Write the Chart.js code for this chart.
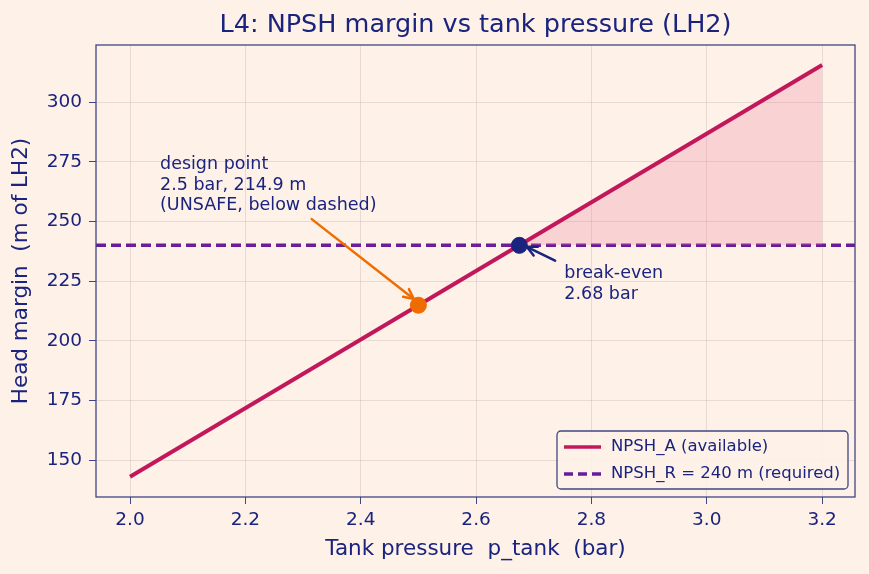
<!DOCTYPE html>
<html>
<head>
<meta charset="utf-8">
<script src="https://cdn.jsdelivr.net/npm/chart.js@4.4.1/dist/chart.umd.min.js"></script>
<style>
  html, body { margin: 0; padding: 0; background: #fef1e7; }
  #wrap { width: 869px; height: 574px; }
</style>
</head>
<body>
<div id="wrap"><canvas id="npshChart" width="869" height="574"></canvas></div>
<script>
// --- data ---
var pressure = [2.0, 2.5, 3.2];           // bar
var npshA = [143.0, 214.9, 315.6];        // m of LH2
var npshR = 240;                          // required, m
var xRange = [1.941, 3.257];
var yRange = [134.5, 324];
var xTicks = [2.0, 2.2, 2.4, 2.6, 2.8, 3.0, 3.2];
var yTicks = [150, 175, 200, 225, 250, 275, 300];
var designPt = [2.5, 214.9];
var breakEven = [2.675, 240];

var navy = '#1a237e';
var crimson = '#c2185b';
var purple = '#6a1b9a';
var orange = '#ef6c00';
var FONT = "'DejaVu Sans', sans-serif";

function arrow(ctx, x0, y0, x1, y1, color) {
  var a = Math.atan2(y1 - y0, x1 - x0), h = 11;
  ctx.save();
  ctx.strokeStyle = color; ctx.lineWidth = 2.5; ctx.lineCap = 'round';
  ctx.beginPath(); ctx.moveTo(x0, y0); ctx.lineTo(x1, y1); ctx.stroke();
  ctx.beginPath();
  ctx.moveTo(x1 - h * Math.cos(a - 0.45), y1 - h * Math.sin(a - 0.45));
  ctx.lineTo(x1, y1);
  ctx.lineTo(x1 - h * Math.cos(a + 0.45), y1 - h * Math.sin(a + 0.45));
  ctx.stroke();
  ctx.restore();
}

var decor = {
  id: 'decor',
  afterDraw: function(chart) {
    var ctx = chart.ctx, a = chart.chartArea;
    var xs = chart.scales.x, ys = chart.scales.y;
    ctx.save();
    // frame
    ctx.strokeStyle = '#3f4585'; ctx.lineWidth = 1.3;
    ctx.strokeRect(a.left, a.top, a.right - a.left, a.bottom - a.top);
    // title
    ctx.fillStyle = navy; ctx.font = '25.5px ' + FONT;
    ctx.textAlign = 'center'; ctx.textBaseline = 'middle';
    ctx.fillText('L4: NPSH margin vs tank pressure (LH2)', (a.left + a.right) / 2, 25);

    // design point annotation
    ctx.font = '17.5px ' + FONT; ctx.textAlign = 'left'; ctx.textBaseline = 'alphabetic';
    var tx = xs.getPixelForValue(2.052), ty = ys.getPixelForValue(271.9);
    ctx.fillText('design point', tx, ty);
    ctx.fillText('2.5 bar, 214.9 m', tx, ty + 20.5);
    ctx.fillText('(UNSAFE, below dashed)', tx, ty + 41);
    arrow(ctx, xs.getPixelForValue(2.315), ys.getPixelForValue(251),
      xs.getPixelForValue(2.492), ys.getPixelForValue(217.5), orange);

    // break-even annotation
    var bx = xs.getPixelForValue(2.753), by = ys.getPixelForValue(226.4);
    ctx.fillStyle = navy;
    ctx.fillText('break-even', bx, by);
    ctx.fillText('2.68 bar', bx, by + 21);
    arrow(ctx, xs.getPixelForValue(2.737), ys.getPixelForValue(233.6),
      xs.getPixelForValue(2.688), ys.getPixelForValue(239.4), navy);

    // legend
    var lx = 557, ly = 431, lw = 291, lh = 58;
    ctx.fillStyle = 'rgba(254,241,231,0.85)';
    ctx.strokeStyle = '#3f4585'; ctx.lineWidth = 1.3;
    ctx.beginPath();
    if (ctx.roundRect) ctx.roundRect(lx, ly, lw, lh, 4); else ctx.rect(lx, ly, lw, lh);
    ctx.fill(); ctx.stroke();
    ctx.lineWidth = 3.5;
    ctx.strokeStyle = crimson;
    ctx.beginPath(); ctx.moveTo(564, 447); ctx.lineTo(601, 447); ctx.stroke();
    ctx.strokeStyle = purple; ctx.setLineDash([9, 5]);
    ctx.beginPath(); ctx.moveTo(564, 474); ctx.lineTo(601, 474); ctx.stroke();
    ctx.setLineDash([]);
    ctx.fillStyle = navy; ctx.font = '16.5px ' + FONT; ctx.textBaseline = 'middle';
    ctx.fillText('NPSH_A (available)', 611, 447);
    ctx.fillText('NPSH_R = 240 m (required)', 611, 474);
    ctx.restore();
  }
};

var ctx = document.getElementById('npshChart');
new Chart(ctx, {
  type: 'scatter',
  data: {
    datasets: [{
      label: 'design',
      data: [{ x: designPt[0], y: designPt[1] }],
      pointRadius: 8, pointBackgroundColor: orange, pointBorderColor: orange
    }, {
      label: 'break-even',
      data: [{ x: breakEven[0], y: breakEven[1] }],
      pointRadius: 8, pointBackgroundColor: navy, pointBorderColor: navy
    }, {
      label: 'NPSH_A (available)',
      type: 'line',
      data: pressure.map(function(p, i) { return { x: p, y: npshA[i] }; }),
      borderColor: crimson, borderWidth: 4, pointRadius: 0,
      fill: { target: { value: npshR }, above: 'rgba(236,120,150,0.25)', below: 'rgba(0,0,0,0)' }
    }, {
      label: 'NPSH_R = 240 m (required)',
      type: 'line',
      data: [{ x: xRange[0], y: npshR }, { x: xRange[1], y: npshR }],
      borderColor: purple, borderWidth: 3.5, borderDash: [10, 5], pointRadius: 0, fill: false
    }]
  },
  options: {
    responsive: false,
    animation: false,
    layout: { padding: { top: 45, right: 14, left: 0, bottom: 0 } },
    plugins: { legend: { display: false }, tooltip: { enabled: false } },
    scales: {
      x: {
        type: 'linear', min: xRange[0], max: xRange[1],
        afterBuildTicks: function(s) { s.ticks = xTicks.map(function(v) { return { value: v }; }); },
        afterFit: function(s) { s.height = 77; },
        grid: { color: 'rgba(110,80,100,0.15)', tickColor: '#3f4585', tickLength: 7 },
        border: { display: false },
        ticks: { color: navy, font: { family: FONT, size: 18.5 }, padding: 5,
          callback: function(v) { return Number(v).toFixed(1); } },
        title: { display: true, text: 'Tank pressure  p_tank  (bar)', color: navy,
          font: { family: FONT, size: 21.5 }, padding: { top: 0, bottom: 12 } }
      },
      y: {
        type: 'linear', min: yRange[0], max: yRange[1],
        afterBuildTicks: function(s) { s.ticks = yTicks.map(function(v) { return { value: v }; }); },
        afterFit: function(s) { s.width = 96; },
        grid: { color: 'rgba(110,80,100,0.15)', tickColor: '#3f4585', tickLength: 7 },
        border: { display: false },
        ticks: { color: navy, font: { family: FONT, size: 18.5 }, padding: 7 },
        title: { display: true, text: 'Head margin  (m of LH2)', color: navy,
          font: { family: FONT, size: 21.5 }, padding: { top: 9, bottom: 2 } }
      }
    }
  },
  plugins: [decor]
});
</script>
</body>
</html>
